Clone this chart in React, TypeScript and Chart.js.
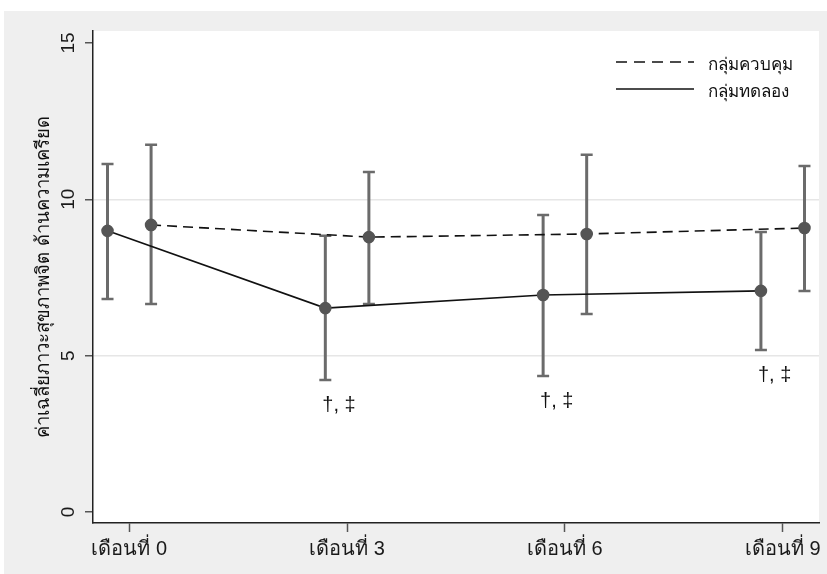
import React, { useEffect, useRef } from 'react';
import { Chart, registerables } from 'chart.js';

Chart.register(...registerables);

const months = [0, 3, 6, 9];
const monthLabels = ['เดือนที่ 0', 'เดือนที่ 3', 'เดือนที่ 6', 'เดือนที่ 9'];
const yTicks = [0, 5, 10, 15];
const gridValues = [5, 10];
const controlName = 'กลุ่มควบคุม';
const experimentName = 'กลุ่มทดลอง';
const controlMean = [9.18, 8.79, 8.89, 9.08];
const controlLower = [6.65, 6.65, 6.33, 7.07];
const controlUpper = [11.74, 10.87, 11.42, 11.06];
const expMean = [8.99, 6.52, 6.94, 7.07];
const expLower = [6.81, 4.22, 4.35, 5.18];
const expUpper = [11.13, 8.83, 9.5, 8.95];
const significance = ['', '†, ‡', '†, ‡', '†, ‡'];
const yTitle = 'ค่าเฉลี่ยภาวะสุขภาพจิต ด้านความเครียด';
const dodge = 0.3;

const FONT = '"Liberation Sans", Arial, "Noto Sans", sans-serif';

const bgPlugin = {
  id: 'bgPlugin',
  beforeDraw(chart: any) {
    const { ctx, chartArea } = chart;
    ctx.save();
    ctx.fillStyle = '#ffffff';
    ctx.fillRect(chartArea.left, chartArea.top, chartArea.right - chartArea.left, chartArea.bottom - chartArea.top);
    ctx.restore();
  },
};

const errorBarPlugin = {
  id: 'errorBarPlugin',
  beforeDatasetsDraw(chart: any) {
    const { ctx } = chart;
    const xs = chart.scales.x;
    const ys = chart.scales.y;
    chart.data.datasets.forEach((ds: any) => {
      ds.data.forEach((p: any, i: number) => {
        const px = xs.getPixelForValue(p.x);
        const lo = ys.getPixelForValue(ds.errLow[i]);
        const hi = ys.getPixelForValue(ds.errHigh[i]);
        ctx.save();
        ctx.strokeStyle = '#6b6b6b';
        ctx.lineWidth = 3;
        ctx.beginPath();
        ctx.moveTo(px, lo);
        ctx.lineTo(px, hi);
        ctx.stroke();
        ctx.lineWidth = 2.5;
        ctx.beginPath();
        ctx.moveTo(px - 6, lo);
        ctx.lineTo(px + 6, lo);
        ctx.moveTo(px - 6, hi);
        ctx.lineTo(px + 6, hi);
        ctx.stroke();
        ctx.restore();
      });
    });
  },
  afterDatasetsDraw(chart: any) {
    const { ctx } = chart;
    const xs = chart.scales.x;
    const ys = chart.scales.y;
    const ds: any = chart.data.datasets[1];
    ctx.save();
    ctx.fillStyle = '#111';
    ctx.font = '20px ' + FONT;
    ctx.textAlign = 'left';
    ctx.textBaseline = 'middle';
    ds.data.forEach((p: any, i: number) => {
      if (!significance[i]) return;
      const px = xs.getPixelForValue(p.x);
      const lo = ys.getPixelForValue(ds.errLow[i]);
      ctx.fillText(significance[i], px - 3, lo + 25);
    });
    ctx.restore();
  },
};

const legendPlugin = {
  id: 'legendPlugin',
  afterDraw(chart: any) {
    const { ctx, chartArea } = chart;
    const x0 = chartArea.right - 203;
    const x1 = chartArea.right - 125;
    const tx = chartArea.right - 111;
    const rows = [
      { name: controlName, dash: [11, 7], y: chartArea.top + 31 },
      { name: experimentName, dash: [], y: chartArea.top + 58 },
    ];
    ctx.save();
    rows.forEach((r) => {
      ctx.strokeStyle = '#111';
      ctx.lineWidth = 1.6;
      ctx.setLineDash(r.dash);
      ctx.beginPath();
      ctx.moveTo(x0, r.y);
      ctx.lineTo(x1, r.y);
      ctx.stroke();
      ctx.setLineDash([]);
      ctx.fillStyle = '#111';
      ctx.font = '17px ' + FONT;
      ctx.textAlign = 'left';
      ctx.textBaseline = 'middle';
      ctx.fillText(r.name, tx, r.y + 3);
    });
    ctx.restore();
  },
};

export default function App() {
  const ref = useRef<HTMLCanvasElement | null>(null);

  useEffect(() => {
    if (!ref.current) return;
    const chart = new Chart(ref.current, {
      type: 'line',
      data: {
        datasets: [
          {
            label: controlName,
            data: months.map((m, i) => ({ x: m + dodge, y: controlMean[i] })),
            borderColor: '#111',
            borderWidth: 1.6,
            borderDash: [10, 6],
            pointRadius: 5.5,
            pointBackgroundColor: '#555',
            pointBorderColor: '#555',
            tension: 0,
            errLow: controlLower,
            errHigh: controlUpper,
          } as any,
          {
            label: experimentName,
            data: months.map((m, i) => ({ x: m - dodge, y: expMean[i] })),
            borderColor: '#111',
            borderWidth: 1.6,
            pointRadius: 5.5,
            pointBackgroundColor: '#555',
            pointBorderColor: '#555',
            tension: 0,
            errLow: expLower,
            errHigh: expUpper,
          } as any,
        ],
      },
      options: {
        animation: false,
        responsive: false,
        devicePixelRatio: 1,
        layout: { padding: { top: 20, right: 8, left: 0, bottom: 0 } },
        plugins: {
          legend: { display: false },
          tooltip: { enabled: false },
        },
        scales: {
          x: {
            type: 'linear',
            min: -0.5,
            max: 9.5,
            afterBuildTicks: (s: any) => {
              s.ticks = months.map((v) => ({ value: v }));
            },
            afterFit: (s: any) => {
              s.height = 51;
            },
            ticks: {
              autoSkip: false,
              maxRotation: 0,
              minRotation: 0,
              padding: 5,
              color: '#1a1a1a',
              font: { family: FONT, size: 20 },
              callback: (v: any) => monthLabels[months.indexOf(Number(v))] ?? '',
            },
            grid: {
              drawOnChartArea: false,
              drawTicks: true,
              tickLength: 9,
              color: '#555',
              tickColor: '#555',
              tickWidth: 1.5,
            },
            border: { display: true, color: '#222', width: 1.5 },
          },
          y: {
            type: 'linear',
            min: -0.35,
            max: 15.38,
            afterBuildTicks: (s: any) => {
              s.ticks = yTicks.map((v) => ({ value: v }));
            },
            afterFit: (s: any) => {
              s.width = 89;
            },
            ticks: {
              minRotation: 90,
              maxRotation: 90,
              crossAlign: 'center',
              padding: 6,
              color: '#1a1a1a',
              font: { family: FONT, size: 19 },
              callback: (v: any) => String(v),
            },
            grid: {
              drawOnChartArea: true,
              drawTicks: true,
              tickLength: 8,
              lineWidth: 1.5,
              color: (c: any) => (c.tick && gridValues.includes(c.tick.value) ? '#e6e6e6' : 'rgba(0,0,0,0)'),
              tickColor: '#555',
              tickWidth: 1.5,
            },
            border: { display: true, color: '#222', width: 1.5 },
            title: {
              display: true,
              text: yTitle,
              color: '#111',
              font: { family: FONT, size: 18.5 },
              padding: { top: 29, bottom: 0 },
            },
          },
        },
      },
      plugins: [bgPlugin, errorBarPlugin, legendPlugin],
    } as any);
    return () => chart.destroy();
  }, []);

  return (
    <div style={{ position: 'fixed', left: 0, top: 0, width: 827, height: 574, background: '#ffffff', overflow: 'hidden' }}>
      <div style={{ position: 'absolute', left: 4, top: 11, width: 823, height: 563, background: '#efefef' }}>
        <canvas ref={ref} width={823} height={563} style={{ display: 'block', width: 823, height: 563 }} />
      </div>
    </div>
  );
}
